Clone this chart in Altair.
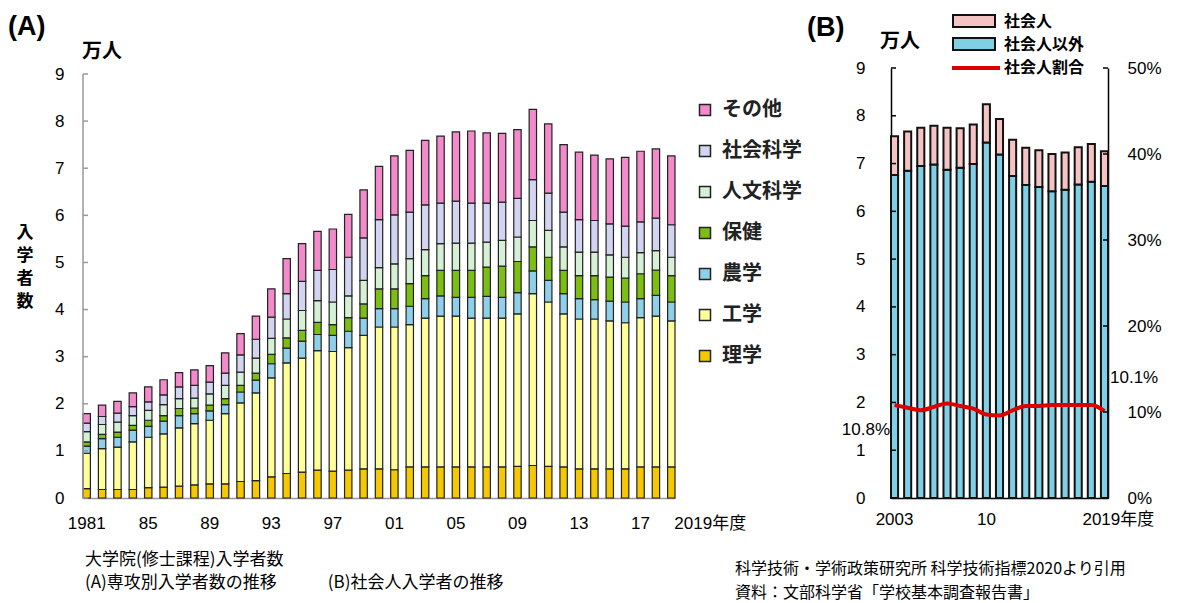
import altair as alt
import pandas as pd

# ---------------- data (万人) ----------------
years_a = list(range(1981, 2020))
cats_stack = ["理学", "工学", "農学", "保健", "人文科学", "社会科学", "その他"]

rigaku = [0.20, 0.18, 0.18, 0.18, 0.22, 0.23, 0.25, 0.28, 0.30, 0.30, 0.35, 0.37, 0.45, 0.52, 0.55, 0.59, 0.57, 0.59, 0.62, 0.62,
          0.60, 0.66, 0.66, 0.66, 0.66, 0.66, 0.66, 0.66, 0.67, 0.69, 0.67, 0.66, 0.62, 0.62, 0.62, 0.62, 0.66, 0.66, 0.66]
kogaku = [0.75, 0.87, 0.90, 1.01, 1.07, 1.13, 1.24, 1.30, 1.35, 1.49, 1.67, 1.86, 2.10, 2.35, 2.42, 2.54, 2.54, 2.60, 2.83, 3.01,
          3.03, 3.02, 3.16, 3.20, 3.20, 3.16, 3.16, 3.16, 3.24, 3.65, 3.49, 3.25, 3.18, 3.18, 3.14, 3.10, 3.17, 3.20, 3.10]
nogaku = [0.15, 0.21, 0.21, 0.25, 0.23, 0.27, 0.26, 0.21, 0.20, 0.19, 0.23, 0.27, 0.30, 0.31, 0.36, 0.34, 0.34, 0.35, 0.37, 0.39,
          0.39, 0.39, 0.41, 0.43, 0.40, 0.44, 0.46, 0.44, 0.45, 0.48, 0.46, 0.43, 0.43, 0.41, 0.42, 0.44, 0.40, 0.44, 0.40]
hoken = [0.09, 0.09, 0.11, 0.10, 0.13, 0.12, 0.15, 0.12, 0.12, 0.13, 0.14, 0.15, 0.20, 0.22, 0.23, 0.26, 0.23, 0.29, 0.30, 0.42,
         0.42, 0.48, 0.49, 0.54, 0.57, 0.57, 0.62, 0.66, 0.66, 0.51, 0.49, 0.49, 0.49, 0.51, 0.51, 0.51, 0.53, 0.54, 0.56]
jinbun = [0.22, 0.21, 0.21, 0.21, 0.21, 0.23, 0.21, 0.21, 0.24, 0.28, 0.28, 0.32, 0.34, 0.40, 0.42, 0.46, 0.48, 0.46, 0.50, 0.45,
          0.53, 0.53, 0.55, 0.57, 0.58, 0.58, 0.53, 0.55, 0.52, 0.56, 0.57, 0.50, 0.50, 0.50, 0.47, 0.44, 0.45, 0.41, 0.39]
shakai = [0.18, 0.17, 0.19, 0.19, 0.18, 0.21, 0.25, 0.27, 0.25, 0.26, 0.37, 0.40, 0.45, 0.54, 0.62, 0.64, 0.69, 0.82, 0.90, 1.02,
          1.04, 0.99, 0.95, 0.86, 0.89, 0.85, 0.83, 0.81, 0.82, 0.87, 0.79, 0.74, 0.69, 0.67, 0.66, 0.66, 0.65, 0.69, 0.69]
sonota = [0.20, 0.24, 0.25, 0.29, 0.32, 0.32, 0.30, 0.33, 0.35, 0.43, 0.45, 0.49, 0.60, 0.74, 0.80, 0.83, 0.86, 0.91, 1.02, 1.13,
          1.25, 1.31, 1.37, 1.42, 1.47, 1.53, 1.49, 1.46, 1.46, 1.49, 1.47, 1.43, 1.43, 1.39, 1.38, 1.46, 1.50, 1.47, 1.46]
series_a = [rigaku, kogaku, nogaku, hoken, jinbun, shakai, sonota]

legend_order = ["その他", "社会科学", "人文科学", "保健", "農学", "工学", "理学"]
legend_colors = ["#F28ACB", "#D3D3F2", "#D5F0D5", "#7DBE12", "#8ECFEA", "#FFFF99", "#F5C800"]

a_label_years = [1981, 1985, 1989, 1993, 1997, 2001, 2005, 2009, 2013, 2017]
a_label_texts = ["1981", "85", "89", "93", "97", "01", "05", "09", "13", "17"]

years_b = list(range(2003, 2020))
ippan = [6.76, 6.85, 6.95, 6.98, 6.87, 6.91, 6.99, 7.44, 7.19, 6.74, 6.55, 6.51, 6.42, 6.45, 6.56, 6.62, 6.53]
shakaijin = [0.81, 0.82, 0.80, 0.81, 0.88, 0.83, 0.83, 0.80, 0.74, 0.76, 0.78, 0.77, 0.78, 0.78, 0.78, 0.79, 0.73]
ratio = [10.8, 10.5, 10.2, 10.6, 11.0, 10.7, 10.4, 9.7, 9.6, 10.2, 10.7, 10.7, 10.8, 10.8, 10.8, 10.8, 10.1]
b_groups = ["社会人以外", "社会人"]
b_colors = ["#7FD0E6", "#F5C3C3"]

b_label_years = [2003, 2010]
b_label_texts = ["2003", "10"]

# ---------------- tables ----------------
rows = []
for i, yr in enumerate(years_a):
    for k, (c, arr) in enumerate(zip(cats_stack, series_a)):
        rows.append({"year": yr, "cat": c, "value": arr[i], "order": k})
df_a = pd.DataFrame(rows)

rows = []
for i, yr in enumerate(years_b):
    rows.append({"year": yr, "grp": "社会人以外", "value": ippan[i], "order": 0})
    rows.append({"year": yr, "grp": "社会人", "value": shakaijin[i], "order": 1})
df_b = pd.DataFrame(rows)
df_ratio = pd.DataFrame({"year": years_b, "ratio": ratio})

NUM = "Liberation Sans, Arial, Noto Sans CJK JP, sans-serif"
CJK = "Noto Sans CJK JP, sans-serif"

W_A, W_B, H = 592, 217, 430
ymax_a = 9 * H / 424
one = pd.DataFrame({"a": [0]})

# ---------------- panel A ----------------
xa = alt.X("year:O", scale=alt.Scale(domain=years_a, paddingInner=0.52, paddingOuter=0),
           axis=alt.Axis(title=None, labels=False, ticks=False, domain=True,
                         domainColor="#999999", domainWidth=1.5))
ya_scale = alt.Scale(domain=[0, ymax_a], nice=False, zero=True)
ya_axis = alt.Axis(title=None, values=list(range(10)), domain=False, ticks=False, grid=False,
                   labelFontSize=17, labelPadding=19, labelColor="black", labelFont=NUM)

bars_a = alt.Chart(df_a).mark_bar(stroke="#222222", strokeWidth=1.2).encode(
    x=xa,
    y=alt.Y("value:Q", stack="zero", scale=ya_scale, axis=ya_axis),
    color=alt.Color("cat:N", scale=alt.Scale(domain=legend_order, range=legend_colors),
                    legend=alt.Legend(title=None, orient="none", legendX=612, legendY=32,
                                      symbolType="square", symbolSize=121,
                                      symbolStrokeColor="#222222", symbolStrokeWidth=1.5,
                                      labelFontSize=20, labelFont=CJK, labelFontWeight="bold",
                                      labelColor="#222222", rowPadding=21, labelOffset=7, padding=0)),
    order=alt.Order("order:Q", sort="ascending"),
)

axis_line_a = alt.Chart(pd.DataFrame({"y0": [0], "y1": [9]})).mark_rule(
    color="#999999", strokeWidth=1.5).encode(
    x=alt.value(0), y=alt.Y("y0:Q", scale=ya_scale, axis=ya_axis), y2="y1:Q")
ticks_a = alt.Chart(pd.DataFrame({"t": list(range(10))})).mark_rule(
    color="#999999", strokeWidth=1.5).encode(
    x=alt.value(0), x2=alt.value(5), y=alt.Y("t:Q", scale=ya_scale, axis=ya_axis))

xlab_a = alt.Chart(pd.DataFrame({"year": a_label_years, "label": a_label_texts})).mark_text(
    align="center", baseline="middle", fontSize=17, font=NUM, color="black").encode(
    x=xa, y=alt.value(456), text="label:N")
xlab_a_last = alt.Chart(pd.DataFrame({"year": [2019], "label": ["2019年度"]})).mark_text(
    align="left", baseline="middle", fontSize=17, font=NUM, color="black", dx=3).encode(
    x=xa, y=alt.value(456), text="label:N")


def label(txt, x, y, size, align="left", font=CJK, weight="normal", baseline="middle", color="black"):
    return alt.Chart(one).mark_text(align=align, baseline=baseline, fontSize=size, font=font,
                                    fontWeight=weight, color=color, text=txt).encode(
        x=alt.value(x), y=alt.value(y))


title_a = label("(A)", -75, -41, 27, font=NUM, weight="bold")
unit_a = label("万人", -1, -16, 20, weight="bold")
ytitle_chars = ["入", "学", "者", "数"]
ytitle_a = [label(ch, -58, 165 + 23 * i, 17, align="center", weight="bold") for i, ch in enumerate(ytitle_chars)]
foot1 = label("大学院(修士課程)入学者数", 2, 492, 17)
foot2 = label("(A)専攻別入学者数の推移　　　(B)社会人入学者の推移", 2, 515, 17)

panel_a = alt.layer(bars_a, axis_line_a, ticks_a, xlab_a, xlab_a_last,
                    title_a, unit_a, *ytitle_a, foot1, foot2).properties(width=W_A, height=H)

# ---------------- panel B ----------------
xb = alt.X("year:O", scale=alt.Scale(domain=years_b, paddingInner=0.46, paddingOuter=0),
           axis=alt.Axis(title=None, labels=False, ticks=False, domain=True,
                         domainColor="black", domainWidth=1.5))
yb_scale = alt.Scale(domain=[0, 9], nice=False, zero=True)
yr_scale = alt.Scale(domain=[0, 50], nice=False, zero=True)
yb_axis = alt.Axis(title=None, values=list(range(10)), domain=True, domainColor="black",
                   domainWidth=1.5, ticks=False, grid=False, labelFontSize=17,
                   labelPadding=26, labelColor="black", labelFont=NUM, orient="left")
yr_axis = alt.Axis(title=None, orient="right", values=[0, 10, 20, 30, 40, 50],
                   labelExpr="datum.value + '%'", domain=True, domainColor="black",
                   domainWidth=1.5, ticks=False, grid=False, labelFontSize=17,
                   labelPadding=19, labelColor="black", labelFont=NUM, labelAlign="left")

bars_b = alt.Chart(df_b).mark_bar(stroke="#111111", strokeWidth=2).encode(
    x=xb,
    y=alt.Y("value:Q", stack="zero", scale=yb_scale, axis=yb_axis),
    color=alt.Color("grp:N", scale=alt.Scale(domain=b_groups, range=b_colors), legend=None),
    order=alt.Order("order:Q", sort="ascending"),
)
ticks_bl = alt.Chart(pd.DataFrame({"t": list(range(10))})).mark_rule(
    color="black", strokeWidth=1.5).encode(
    x=alt.value(0), x2=alt.value(5), y=alt.Y("t:Q", scale=yb_scale, axis=yb_axis))

xlab_b = alt.Chart(pd.DataFrame({"year": b_label_years, "label": b_label_texts})).mark_text(
    align="center", baseline="middle", fontSize=17, font=NUM, color="black").encode(
    x=xb, y=alt.value(452), text="label:N")
xlab_b_last = alt.Chart(pd.DataFrame({"year": [2019], "label": ["2019年度"]})).mark_text(
    align="left", baseline="middle", fontSize=17, font=NUM, color="black", dx=-22).encode(
    x=xb, y=alt.value(452), text="label:N")

title_b = label("(B)", -84, -40, 27, font=NUM, weight="bold")
unit_b = label("万人", -11, -26, 20, weight="bold")
ann_first = label("10.8%", -1, 362, 17, align="right", font=NUM)
ann_last = label("10.1%", 219, 310, 17, align="left", font=NUM)

# hand-drawn legend of panel B
sw1 = alt.Chart(one).mark_rect(fill=b_colors[1], stroke="#111111", strokeWidth=2).encode(
    x=alt.value(62), x2=alt.value(104), y=alt.value(-53), y2=alt.value(-41))
sw2 = alt.Chart(one).mark_rect(fill=b_colors[0], stroke="#111111", strokeWidth=2).encode(
    x=alt.value(62), x2=alt.value(104), y=alt.value(-30), y2=alt.value(-18))
sw3 = alt.Chart(one).mark_rule(color="#DD0000", strokeWidth=4).encode(
    x=alt.value(61), x2=alt.value(109), y=alt.value(0))
lg1 = label("社会人", 113, -46, 16, weight="bold")
lg2 = label("社会人以外", 113, -23, 16, weight="bold")
lg3 = label("社会人割合", 113, 0, 16, weight="bold")
# invisible spacer that fixes the top edge of the page layout
spacer = alt.Chart(one).mark_rule(strokeOpacity=0, strokeWidth=1).encode(
    x=alt.value(62), x2=alt.value(63), y=alt.value(-60))

foot3 = label("科学技術・学術政策研究所 科学技術指標2020より引用", -156, 501, 16)
foot4 = label("資料：文部科学省「学校基本調査報告書」", -156, 525, 16)

left_b = alt.layer(bars_b, ticks_bl, xlab_b, xlab_b_last, title_b, unit_b, ann_first, ann_last,
                   sw1, sw2, sw3, lg1, lg2, lg3, spacer, foot3, foot4)

line_b = alt.Chart(df_ratio).mark_line(color="#DD0000", strokeWidth=4, interpolate="monotone").encode(
    x=xb,
    y=alt.Y("ratio:Q", scale=yr_scale, axis=yr_axis),
)
ticks_br = alt.Chart(pd.DataFrame({"t": [0, 10, 20, 30, 40, 50]})).mark_rule(
    color="black", strokeWidth=1.5).encode(
    x=alt.value(W_B - 5), x2=alt.value(W_B), y=alt.Y("t:Q", scale=yr_scale, axis=yr_axis))
right_b = alt.layer(line_b, ticks_br)

panel_b = alt.layer(left_b, right_b).resolve_scale(y="independent").properties(width=W_B, height=H)

chart = alt.hconcat(panel_a, panel_b, spacing=216, bounds="flush").resolve_scale(
    color="independent").properties(
    padding={"left": 0, "top": 0, "right": 5, "bottom": 2},
    background="white",
).configure_view(strokeWidth=0)

chart.save("out.html", embed_options={"renderer": "svg", "actions": False})
